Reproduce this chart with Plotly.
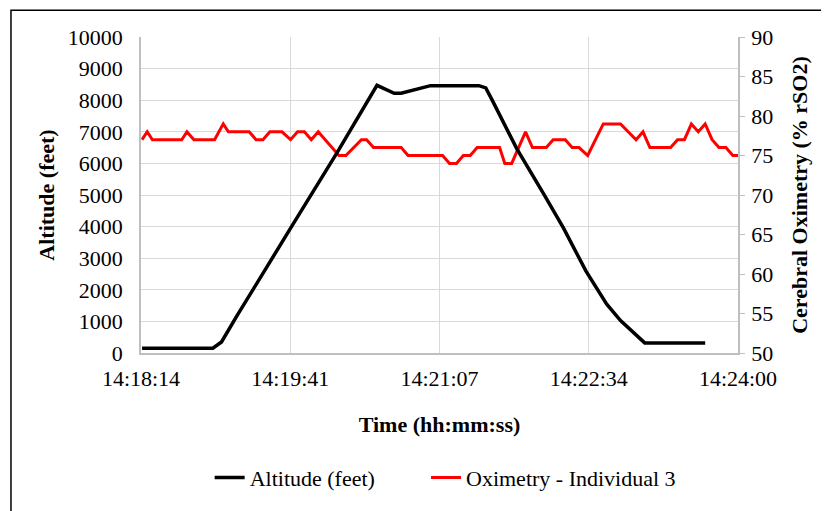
import plotly.graph_objects as go

DAY = "2020-01-01 "

# Altitude trace (feet)
alt_time = ["14:18:15", "14:18:56", "14:19:01", "14:19:06", "14:19:10", "14:19:41",
            "14:20:08", "14:20:31", "14:20:41", "14:20:45", "14:20:54", "14:21:02",
            "14:21:30", "14:21:34", "14:21:38", "14:21:42", "14:21:52", "14:22:08",
            "14:22:19", "14:22:32", "14:22:44", "14:22:52", "14:22:58", "14:23:05",
            "14:23:06", "14:23:41"]
alt_feet = [150, 150, 350, 820, 1180, 3950,
            6350, 8470, 8220, 8220, 8360, 8460,
            8460, 8390, 7970, 7550, 6460, 4990,
            3950, 2590, 1545, 1025, 710, 376,
            320, 320]

# Oximetry trace (% rSO2)
oxi_time = ["14:18:15", "14:18:18", "14:18:21", "14:18:38", "14:18:41", "14:18:45",
            "14:18:57", "14:19:02", "14:19:05", "14:19:17", "14:19:21", "14:19:25",
            "14:19:29", "14:19:36", "14:19:41", "14:19:45", "14:19:49", "14:19:53",
            "14:19:57", "14:20:09", "14:20:13", "14:20:22", "14:20:25", "14:20:29",
            "14:20:45", "14:20:49", "14:21:09", "14:21:13", "14:21:17", "14:21:21",
            "14:21:25", "14:21:29", "14:21:42", "14:21:45", "14:21:49", "14:21:57",
            "14:22:01", "14:22:09", "14:22:13", "14:22:20", "14:22:24", "14:22:28",
            "14:22:33", "14:22:42", "14:22:52", "14:23:01", "14:23:05", "14:23:09",
            "14:23:21", "14:23:25", "14:23:29", "14:23:33", "14:23:37", "14:23:41",
            "14:23:45", "14:23:49", "14:23:53", "14:23:57", "14:24:00"]
oxi_pct = [77, 78, 77, 77, 78, 77,
           77, 79, 78, 78, 77, 77,
           78, 78, 77, 78, 78, 77,
           78, 75, 75, 77, 77, 76,
           76, 75, 75, 74, 74, 75,
           75, 76, 76, 74, 74, 78,
           76, 76, 77, 77, 76, 76,
           75, 79, 79, 77, 78, 76,
           76, 77, 77, 79, 78, 79,
           77, 76, 76, 75, 75]

# x ticks (Excel fractions of a day 0.596 .. 0.600)
tick_times = ["14:18:14.4", "14:19:40.8", "14:21:07.2", "14:22:33.6", "14:24:00"]
tick_labels = ["14:18:14", "14:19:41", "14:21:07", "14:22:34", "14:24:00"]

FONT = "Liberation Serif, Times New Roman, serif"
GRID = "#d9d9d9"
AXIS = "#bfbfbf"

fig = go.Figure()

fig.add_trace(go.Scatter(
    x=[DAY + t for t in alt_time], y=alt_feet,
    mode="lines", name="Altitude (feet)",
    line=dict(color="#000000", width=3.5),
    yaxis="y2", legend="legend",
))

fig.add_trace(go.Scatter(
    x=[DAY + t for t in oxi_time], y=oxi_pct,
    mode="lines", name="Oximetry - Individual 3",
    line=dict(color="#ff0000", width=3),
    yaxis="y", legend="legend2",
))

# page body adds an 8px offset, so the figure is 8px smaller
fig.update_layout(
    width=821, height=503,
    margin=dict(l=133, r=91, t=29, b=155),
    paper_bgcolor="white",
    plot_bgcolor="white",
    font=dict(family=FONT, size=22, color="#000000"),
    showlegend=True,
    legend=dict(
        orientation="h", x=0.115, xanchor="left", y=-0.395, yanchor="middle",
        font=dict(size=22),
    ),
    legend2=dict(
        orientation="h", x=0.4774, xanchor="left", y=-0.395, yanchor="middle",
        font=dict(size=22),
    ),
    xaxis=dict(
        type="date",
        range=[DAY + tick_times[0], DAY + tick_times[-1]],
        tickmode="array",
        tickvals=[DAY + t for t in tick_times],
        ticktext=tick_labels,
        showgrid=True, gridcolor=GRID, gridwidth=1,
        showline=True, linecolor=AXIS, linewidth=1.5,
        ticks="", zeroline=False, automargin=False,
        ticklabelstandoff=5,
        title=dict(text="<b>Time (hh:mm:ss)</b>", standoff=26, font=dict(size=22)),
    ),
    # oximetry on the right
    yaxis=dict(
        side="right",
        range=[50, 90], dtick=5,
        showgrid=False, zeroline=False, automargin=False,
        showline=True, linecolor=AXIS, linewidth=1.5,
        ticks="outside", ticklen=5, tickcolor=AXIS, ticklabelstandoff=2,
        title=dict(text="<b>Cerebral Oximetry (% rSO2)</b>", standoff=19, font=dict(size=22)),
    ),
    # altitude on the left, drawn over the oximetry line
    yaxis2=dict(
        overlaying="y", side="left",
        range=[0, 10000], dtick=1000, tickformat="d",
        showgrid=True, gridcolor=GRID, gridwidth=1,
        zeroline=False, automargin=False,
        showline=True, linecolor=AXIS, linewidth=1.5,
        ticks="", ticklabelstandoff=12,
        title=dict(text="<b>Altitude (feet)</b>", standoff=7, font=dict(size=22)),
    ),
)

# outer frame of the original chart (cropped at right and bottom)
fig.add_shape(
    type="rect", xref="paper", yref="paper",
    x0=-0.2178, x1=1.3, y0=-1.0, y1=1.0846,
    line=dict(color="#000000", width=1.5),
    fillcolor="rgba(0,0,0,0)", layer="below",
)

fig.write_html("out.html")
